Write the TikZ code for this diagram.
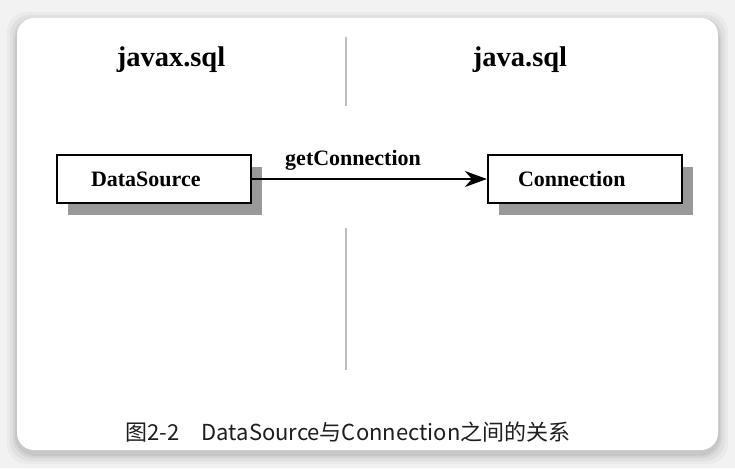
\documentclass[tikz,border=0pt]{standalone}
\usepackage{fontspec}
\newfontfamily\cjk{Noto Sans CJK SC}
\newfontfamily\serb{Liberation Serif}
\usetikzlibrary{arrows.meta,shadows}
\definecolor{bgc}{RGB}{242,242,242}
\definecolor{shadc}{RGB}{153,153,153}
\definecolor{divc}{RGB}{190,190,190}
\definecolor{capc}{RGB}{30,30,30}
\tikzset{
  classbox/.style={draw=black,line width=2.2pt,fill=white,minimum width=194pt,minimum height=48pt,
    inner xsep=34pt,text width=126pt,align=left,font=\serb\bfseries\fontsize{22}{24}\selectfont,
    drop shadow={shadow xshift=11pt,shadow yshift=-12pt,fill=shadc,opacity=1}},
  heading/.style={font=\serb\bfseries\fontsize{28.5}{30}\selectfont},
  divider/.style={draw=divc,line width=1.5pt},
  conn/.style={draw=black,line width=2.2pt,-{Stealth[length=22pt,width=16pt,inset=7pt]}},
}
\begin{document}
\begin{tikzpicture}[x=1pt,y=-1pt]
\useasboundingbox (0,0) rectangle (735,468);
\fill[bgc] (0,0) rectangle (735,468);
\foreach \i/\o in {10/0.03,7/0.04,4/0.05,2/0.06}
  \fill[black,opacity=\o,rounded corners=20] (17-\i,18-\i+4) rectangle (718+\i,450+\i+4);
\fill[white,rounded corners=17] (17,18) rectangle (718,450);

\coordinate (d1) at (346,37);
\coordinate (d2) at (346,106);
\coordinate (d3) at (346,228);
\coordinate (d4) at (346,370);
\draw[divider] (d1) -- (d2);
\draw[divider] (d3) -- (d4);

\node[heading,anchor=base] (h1) at (171,67) {javax.sql};
\node[heading,anchor=base] (h2) at (520,67) {java.sql};

\node[classbox] (ds) at (154,179) {DataSource};
\node[classbox,inner xsep=30pt,text width=134pt] (cn) at (585,179) {Connection};

\draw[conn] (ds.east) -- (cn.west)
  node[pos=0.43,above=4pt,font=\serb\bfseries\fontsize{22}{24}\selectfont] (lbl) {getConnection};

\node[text=capc,font=\cjk\fontsize{22}{24}\selectfont] (cap) at (348,432)
  {图2-2\hspace{1em}DataSource与Connection之间的关系};
\end{tikzpicture}
\end{document}
